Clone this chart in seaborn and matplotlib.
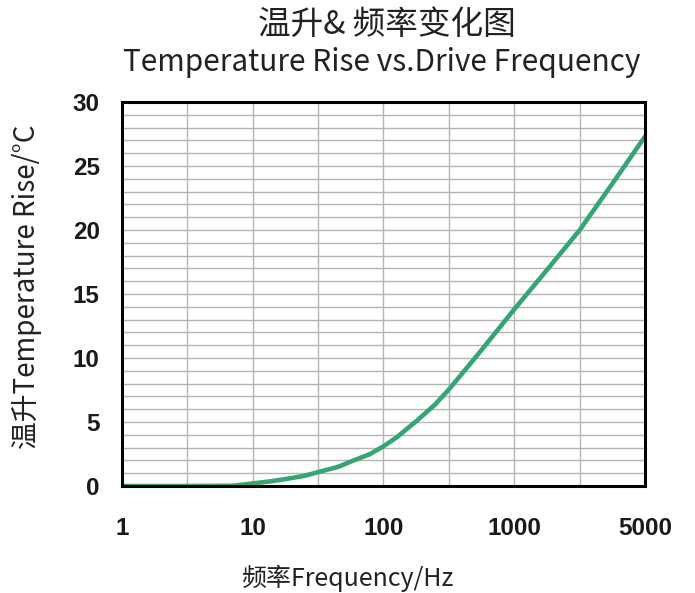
import matplotlib
matplotlib.use("Agg")
import matplotlib.pyplot as plt
import seaborn as sns
import numpy as np
import pandas as pd

# 读图得到的数据
freq = [1, 3.2, 7, 10, 14, 18, 25, 32, 45, 56, 79, 100, 126, 180, 250, 320,
        560, 1000, 1500, 2240, 3340, 5000]
temp_rise = [0, 0, 0.02, 0.2, 0.38, 0.55, 0.8, 1.1, 1.5, 1.9, 2.5, 3.1, 3.8,
             5.1, 6.4, 7.6, 10.6, 13.8, 16.9, 20.0, 23.6, 27.3]
tick_freqs = [1, 10, 100, 1000, 5000]
tick_labels = ["1", "10", "100", "1000", "5000"]
y_ticks = [0, 5, 10, 15, 20, 25, 30]

# 横轴刻度等距排列 (1,10,100,1000,5000)
def freq_to_pos(f):
    return np.interp(np.log10(f), np.log10(tick_freqs), np.arange(len(tick_freqs)))

df = pd.DataFrame({"pos": freq_to_pos(np.array(freq)), "temp": temp_rise})

sns.set_theme(style="white")
cjk = ["Noto Sans CJK SC", "DejaVu Sans"]
plt.rcParams['font.family'] = cjk

fig = plt.figure(figsize=(6.95, 5.93), dpi=100)
ax = fig.add_axes([0.1755, 0.1804, 0.7525, 0.6476])

sns.lineplot(data=df, x="pos", y="temp", color="#35a574", linewidth=3.3, ax=ax)

ax.set_xlim(0, len(tick_freqs) - 1)
ax.set_ylim(0, 30)
ax.set_xticks(np.arange(len(tick_freqs)))
ax.set_xticklabels(tick_labels)
ax.set_yticks(y_ticks)
ax.set_xticks(np.arange(0, len(tick_freqs) - 1, 0.5), minor=True)
ax.set_yticks(np.arange(0, 31, 1), minor=True)
ax.grid(which="both", color="#b4b4b4", linewidth=1.0)
ax.set_axisbelow(True)

for lab in ax.get_xticklabels() + ax.get_yticklabels():
    lab.set_fontfamily("Liberation Sans")
    lab.set_fontweight("bold")
    lab.set_fontsize(17.5)
    lab.set_color("#1a1a1a")
ax.tick_params(axis="x", which="both", length=0, pad=22)
ax.tick_params(axis="y", which="both", length=0, pad=16)

for s in ax.spines.values():
    s.set_color("black")
    s.set_linewidth(2.2)

ax.set_xlabel("频率Frequency/Hz", fontsize=18, color="#222222")
ax.xaxis.set_label_coords(0.43, -0.205)
ax.set_ylabel("温升Temperature Rise/°C", fontsize=20, color="#222222")
ax.yaxis.set_label_coords(-0.152, 0.52)

fig.text(0.556, 0.958, "温升& 频率变化图", ha="center", va="center", fontsize=23.5, color="#222222")
fig.text(0.549, 0.895, "Temperature Rise vs.Drive Frequency", ha="center", va="center",
         fontsize=21.5, color="#222222")

plt.savefig("out.png", dpi=100)
